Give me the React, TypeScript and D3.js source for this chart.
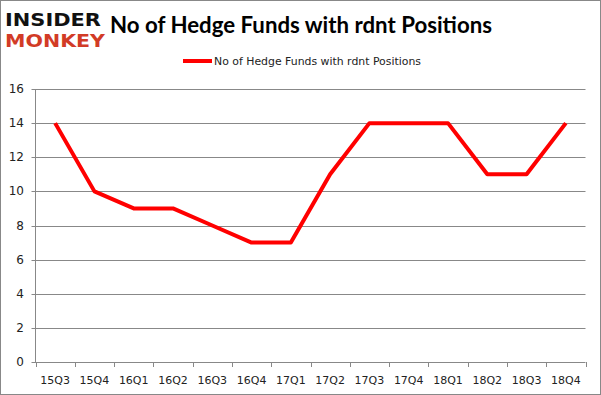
import React from "react";
import * as d3 from "d3";

const categories = ["15Q3","15Q4","16Q1","16Q2","16Q3","16Q4","17Q1","17Q2","17Q3","17Q4","18Q1","18Q2","18Q3","18Q4"];
const values = [14,10,9,9,8,7,7,11,14,14,14,11,11,14];
const yTicks = [0,2,4,6,8,10,12,14,16];
const seriesName = "No of Hedge Funds with rdnt Positions";
const title = "No of Hedge Funds with rdnt Positions";

const W = 601, H = 395;
const left = 35.5, right = 585.5, top = 89, bottom = 362;

export default function App() {
  const x = d3.scaleBand<string>().domain(categories).range([left, right]);
  const y = d3.scaleLinear().domain([0, 16]).range([bottom, top]);
  const line = d3.line<number>()
    .x((_, i) => (x(categories[i]) as number) + x.bandwidth() / 2)
    .y((d) => y(d));
  const boundaries = categories.map((c) => x(c) as number).concat([right]);
  return (
    <svg width={W} height={H} style={{ position: "absolute", left: 0, top: 0, background: "#fff" }}>
      <rect x={0.5} y={0.5} width={W - 1} height={H - 1} fill="#fff" stroke="#888" />
      {/* logo */}
      <text x={5} y={26} fontFamily="DejaVu Sans" fontWeight="bold" fontSize={17} textLength={96} lengthAdjust="spacingAndGlyphs" fill="#111">INSIDER</text>
      <text x={5} y={47} fontFamily="DejaVu Sans" fontWeight="bold" fontSize={17} textLength={100} lengthAdjust="spacingAndGlyphs" fill="#d23b26">MONKEY</text>
      <text x={110} y={33} fontFamily="Lato, Open Sans, sans-serif" fontWeight="bold" fontSize={22} textLength={382} lengthAdjust="spacingAndGlyphs" fill="#000">{title}</text>
      {/* legend */}
      <line x1={183} x2={212} y1={61} y2={61} stroke="#ff0000" strokeWidth={4} />
      <text x={214} y={65} fontFamily="DejaVu Sans, sans-serif" fontSize={11} textLength={207} lengthAdjust="spacingAndGlyphs" fill="#222">{seriesName}</text>
      {/* grid */}
      {yTicks.map((t) => (
        <g key={t}>
          <line x1={left - 4} x2={right} y1={Math.round(y(t)) + 0.5} y2={Math.round(y(t)) + 0.5} stroke="#888" strokeWidth={1} />
          <text x={24} y={y(t) + 4} textAnchor="end" fontFamily="DejaVu Sans, sans-serif" fontSize={12} fill="#222">{t}</text>
        </g>
      ))}
      <line x1={left} x2={left} y1={top} y2={bottom} stroke="#888" />
      {boundaries.map((b, i) => (
        <line key={i} x1={Math.round(b) + 0.5} x2={Math.round(b) + 0.5} y1={bottom} y2={bottom + 5} stroke="#888" />
      ))}
      {categories.map((c) => (
        <text key={c} x={(x(c) as number) + x.bandwidth() / 2} y={384} textAnchor="middle" fontFamily="DejaVu Sans, sans-serif" fontSize={11} fill="#222">{c}</text>
      ))}
      <path d={line(values) || ""} fill="none" stroke="#ff0000" strokeWidth={4} strokeLinejoin="round" />
    </svg>
  );
}
